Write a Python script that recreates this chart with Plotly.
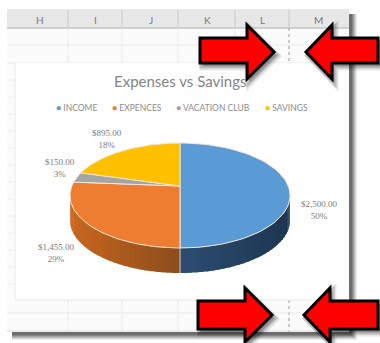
import math
import plotly.graph_objects as go

categories = ["INCOME", "EXPENCES", "VACATION CLUB", "SAVINGS"]
values = [2500, 1455, 150, 895]
colors = ["#5b9bd5", "#ed7d31", "#a5a5a5", "#ffc000"]
column_labels = ["H", "I", "J", "K", "L", "M"]
chart_title = "Expenses vs Savings"

CX, CY, RX, RY = 180, 195.5, 110, 52.5
AX, AY = 180, 186
DEPTH = 25
total = sum(values)
font = "Lato, 'Open Sans', sans-serif"


def rim(a0, a1, n=60):
    return [a0 + (a1 - a0) * i / n for i in range(n + 1)]


def ex(a):
    return CX + RX * math.sin(a)


def ey(a):
    return CY - RY * math.cos(a)


def mix(h, other, t):
    a = [int(h[i:i + 2], 16) for i in (1, 3, 5)]
    b = [int(other[i:i + 2], 16) for i in (1, 3, 5)]
    return "rgb(%d,%d,%d)" % tuple(round(x + (y - x) * t) for x, y in zip(a, b))


fig = go.Figure()

# pie wall, built from the value angles
angle = 0.0
for v, c in zip(values, colors):
    a0, a1 = angle, angle + 2 * math.pi * v / total
    angle = a1
    lo, hi = max(a0, math.pi / 2), min(a1, 3 * math.pi / 2)
    if hi <= lo:
        continue
    steps = 30
    for s in range(steps):
        t0 = lo + (hi - lo) * s / steps
        t1 = lo + (hi - lo) * (s + 1.3) / steps
        t1 = min(t1, hi)
        arc = rim(t0, t1, 6)
        xs = [ex(a) for a in arc] + [ex(a) for a in reversed(arc)]
        ys = [ey(a) for a in arc] + [ey(a) + DEPTH for a in reversed(arc)]
        d = abs(math.sin((t0 + t1) / 2))  # 0 at the front, 1 at the sides
        if c == colors[0]:
            col = mix("#2c4d72", "#1c3550", d)
        else:
            col = mix("#8a4c1c", "#c9671f", d)
        fig.add_trace(go.Scatter(x=xs, y=ys, mode="lines", fill="toself", fillcolor=col,
                                 line=dict(width=0), hoverinfo="skip", showlegend=False))

# pie top
angle = 0.0
for v, c, name in zip(values, colors, categories):
    a0, a1 = angle, angle + 2 * math.pi * v / total
    angle = a1
    arc = rim(a0, a1)
    fig.add_trace(go.Scatter(x=[AX] + [ex(a) for a in arc] + [AX],
                             y=[AY] + [ey(a) for a in arc] + [AY],
                             mode="lines", fill="toself", fillcolor=c,
                             line=dict(width=1, color="#f6e6d6"),
                             name=name, hoverinfo="name", showlegend=False))

# front seam
fig.add_trace(go.Scatter(x=[CX, CX], y=[CY + RY, CY + RY + DEPTH], mode="lines",
                         line=dict(width=1, color="#d9c9b8"), hoverinfo="skip", showlegend=False))

shapes = []


def rect(x0, y0, x1, y1, fill, layer="below"):
    shapes.append(dict(type="rect", x0=x0, y0=y0, x1=x1, y1=y1, fillcolor=fill,
                       line=dict(width=0), layer=layer))


def line(x0, y0, x1, y1, color, width=1, dash="solid"):
    shapes.append(dict(type="line", x0=x0, y0=y0, x1=x1, y1=y1, layer="below",
                       line=dict(color=color, width=width, dash=dash)))


# drop shadow of the sheet
for i, op in enumerate([0.08, 0.12, 0.15, 0.18, 0.22, 0.26]):
    k = 8 - i
    rect(12, 14, 349 + k, 332 + k, "rgba(40,40,40,%.2f)" % op)
rect(7, 9, 349, 332, "#fbfbfb")
rect(7, 9, 349, 28, "#e7e7e7")
line(7, 28, 349, 28, "#c4c4c4", 1.5)
for x in (68, 122, 178, 235):
    line(x, 10, x, 27, "#c8c8c8")
    line(x, 28, x, 63, "#e8e8e8")
    line(x, 300, x, 332, "#e8e8e8")
line(289, 10, 289, 27, "#c8c8c8")
line(289, 28, 289, 63, "#9a9a9a", 1, "dot")
line(289, 300, 289, 332, "#9a9a9a", 1, "dot")
for y in (45, 63, 313):
    line(7, y, 349, y, "#e9e9e9")
line(7, 331, 349, 331, "#dcdcdc")
for y in (80, 97, 114, 131, 148, 165, 182, 199, 216, 233, 250, 267, 284):
    line(7, y, 15, y, "#f0f0f0")
rect(15, 63, 348, 300, "#ffffff")
line(15, 63, 15, 300, "#eaeaea")
line(15, 300, 348, 300, "#e8e8e8")


def arrow(points):
    p = "M" + " L".join("%g,%g" % q for q in points) + " Z"
    for dx, dy, w, op in [(3, 4, 7, .10), (2, 3, 5, .18)]:
        shapes.append(dict(type="path", path="M" + " L".join("%g,%g" % (a + dx, b + dy) for a, b in points) + " Z",
                           fillcolor="rgba(0,0,0,%.2f)" % op, layer="above",
                           line=dict(color="rgba(0,0,0,%.2f)" % op, width=w)))
    shapes.append(dict(type="path", path=p, fillcolor="#fe0000", layer="above",
                       line=dict(color="#000000", width=3)))


arrow([(200, 38), (247, 38), (247, 25), (274, 52), (247, 79), (247, 63), (200, 63)])
arrow([(378, 38), (332, 38), (332, 25), (306, 52), (332, 79), (332, 63), (378, 63)])
arrow([(198, 301), (245, 301), (245, 288), (272, 315), (245, 342), (245, 329), (198, 329)])
arrow([(378, 301), (330, 301), (330, 288), (304, 315), (330, 342), (330, 329), (378, 329)])

ann = []
for x, t in zip((40, 95, 151, 207, 262, 318), column_labels):
    ann.append(dict(x=x, y=20, text=t, showarrow=False, font=dict(size=10, color="#777777", family=font)))
ann.append(dict(x=180, y=81, text=chart_title, showarrow=False,
                font=dict(size=15, color="#858585", family=font)))
for pos, v in zip([(319, 209.5), (56, 252.5), (60, 167.5), (107, 138.5)], values):
    ann.append(dict(x=pos[0], y=pos[1], text="$%s<br>%d%%" % (format(v, ",.2f"), round(100 * v / total)),
                    showarrow=False, font=dict(size=9, color="#7c7c7c", family="'Liberation Serif', serif")))
for x, c, name in zip((54, 110, 174, 263), colors, categories):
    ann.append(dict(x=x, y=108, xanchor="left", showarrow=False,
                    text="<span style='color:%s'>●</span> %s" % (c, name),
                    font=dict(size=8.5, color="#8c8c8c", family=font)))

fig.update_layout(
    width=380, height=343, margin=dict(l=0, r=0, t=0, b=0),
    paper_bgcolor="#ffffff", plot_bgcolor="#ffffff",
    xaxis=dict(range=[0, 380], visible=False, fixedrange=True),
    yaxis=dict(range=[343, 0], visible=False, fixedrange=True),
    shapes=shapes, annotations=ann, showlegend=False,
)
fig.write_html("out.html", config=dict(displayModeBar=False),
               post_script="document.body.style.margin='0';document.body.style.overflow='hidden';")
